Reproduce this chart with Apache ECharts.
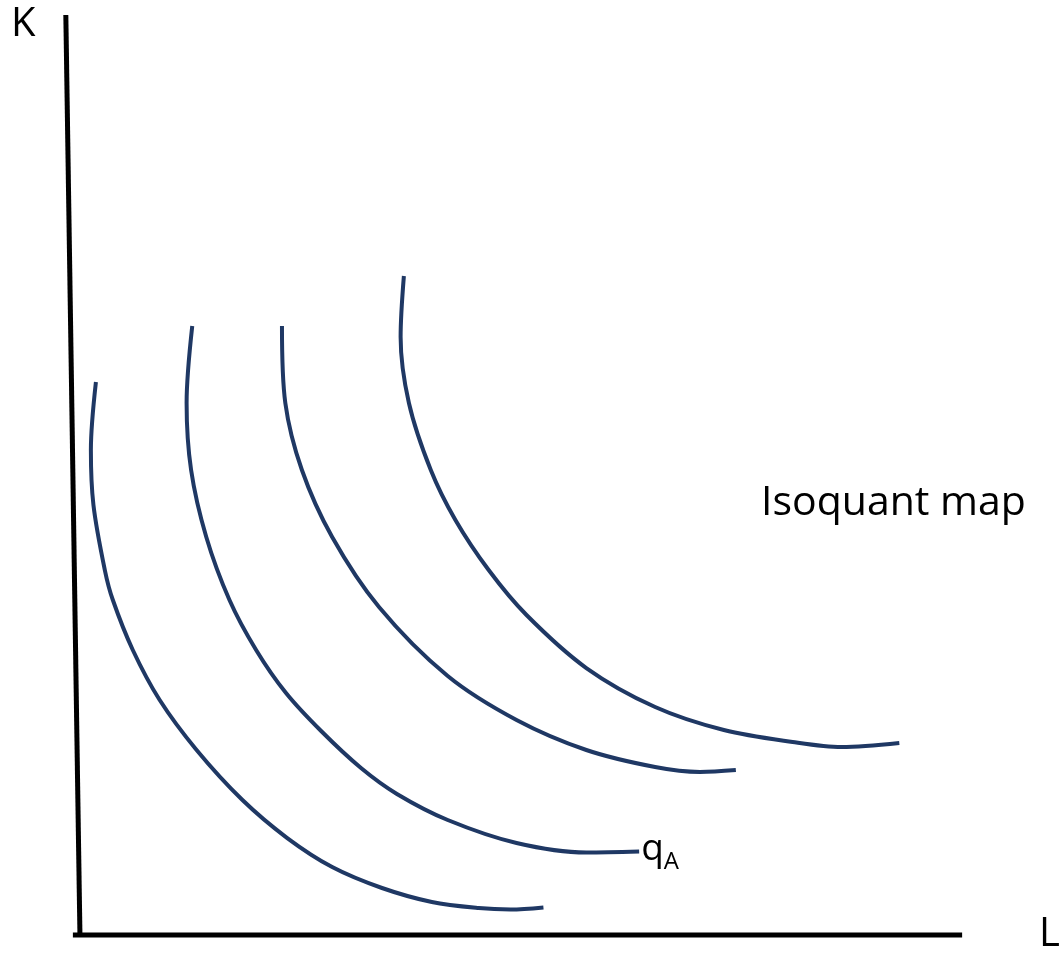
<!DOCTYPE html>
<html>
<head>
<meta charset="utf-8">
<title>Isoquant map</title>
<script src="https://cdn.jsdelivr.net/npm/echarts@6/dist/echarts.min.js"></script>
<style>
  html, body { margin: 0; padding: 0; background: #fff; }
  #main { width: 1063px; height: 959px; }
</style>
</head>
<body>
<div id="main"></div>
<script>
// isoquant curves, [L, K] with the axis corner at 0,0
var isoquant1 = [
    [1.81, 60.11], [1.24, 52.72], [1.53, 46.74], [2.82, 39.67], [3.73, 36.41],
    [5.99, 30.98], [9.04, 25.54], [13.22, 20.11], [18.42, 14.67], [23.50, 10.54],
    [28.59, 7.39], [34.24, 5.11], [39.89, 3.59], [45.20, 2.93], [48.81, 2.77],
    [52.54, 2.99]
];
var isoquantA = [
    [12.73, 66.20], [12.09, 57.83], [12.60, 50.54], [14.32, 43.26], [16.95, 36.41],
    [19.97, 30.98], [23.36, 26.30], [27.34, 22.17], [31.86, 18.15], [35.93, 15.33],
    [41.69, 12.50], [49.49, 10.00], [57.40, 8.97], [63.39, 9.08]
];
var isoquant3 = [
    [22.90, 66.20], [23.28, 57.83], [25.16, 50.54], [28.59, 43.26], [33.90, 35.65],
    [41.69, 28.15], [49.49, 23.37], [57.40, 20.11], [65.20, 18.26], [70.28, 17.72],
    [74.35, 17.93]
];
var isoquant4 = [
    [36.72, 71.63], [36.35, 65.00], [37.29, 57.83], [39.77, 50.54], [42.56, 45.11],
    [46.33, 39.67], [50.62, 34.78], [57.40, 29.02], [65.20, 24.78], [72.99, 22.28],
    [80.79, 20.98], [86.33, 20.43], [92.88, 20.87]
];
// the hand drawn axes (K leans a little to the left at the top)
var axisK = [[-1.6, 100], [0, 0]];
var axisL = [[-0.8, 0], [100, 0]];

var curveColor = '#1f3864';
var font = '"Open Sans", "Noto Sans", sans-serif';

var myChart = echarts.init(document.getElementById('main'));

function curve(name, data) {
    return {
        name: name,
        type: 'line',
        data: data,
        smooth: 0.33,
        symbol: 'none',
        clip: false,
        silent: true,
        lineStyle: { color: curveColor, width: 4 }
    };
}

function axisSeries(data) {
    return {
        type: 'line',
        data: data,
        symbol: 'none',
        clip: false,
        silent: true,
        lineStyle: { color: '#000', width: 5, cap: 'butt' }
    };
}

var qA = curve('qA', isoquantA);
qA.endLabel = {
    show: true,
    distance: 2,
    offset: [0, -2],
    formatter: '{q|q}{a|A}',
    rich: {
        q: { fontFamily: font, fontSize: 37, color: '#000', verticalAlign: 'bottom' },
        a: { fontFamily: font, fontSize: 24, color: '#000', verticalAlign: 'bottom', padding: [0, 0, -6, 0] }
    }
};

var option = {
    animation: false,
    backgroundColor: '#fff',
    // a little room below/left of the corner so the axes are not cut off
    grid: { left: 62.3, right: 98, top: 5.8, bottom: 14.8 },
    xAxis: {
        type: 'value',
        min: -2,
        max: 100,
        name: 'L',
        nameLocation: 'end',
        nameGap: 77,
        nameTextStyle: { fontFamily: font, fontSize: 40, color: '#000', verticalAlign: 'middle', padding: [12, 0, 0, 0] },
        axisLine: { show: false },
        axisTick: { show: false },
        axisLabel: { show: false },
        splitLine: { show: false }
    },
    yAxis: {
        type: 'value',
        min: -1,
        max: 101,
        axisLine: { show: false },
        axisTick: { show: false },
        axisLabel: { show: false },
        splitLine: { show: false }
    },
    graphic: [
        {
            type: 'text',
            left: 11,
            top: 5,
            style: { text: 'K', font: '40px ' + font, fill: '#000' }
        },
        {
            type: 'text',
            left: 761,
            top: 483,
            style: { text: 'Isoquant map', font: '41px ' + font, fill: '#000' }
        }
    ],
    series: [
        axisSeries(axisK),
        axisSeries(axisL),
        curve('q1', isoquant1),
        qA,
        curve('q3', isoquant3),
        curve('q4', isoquant4)
    ]
};

myChart.setOption(option);
</script>
</body>
</html>
